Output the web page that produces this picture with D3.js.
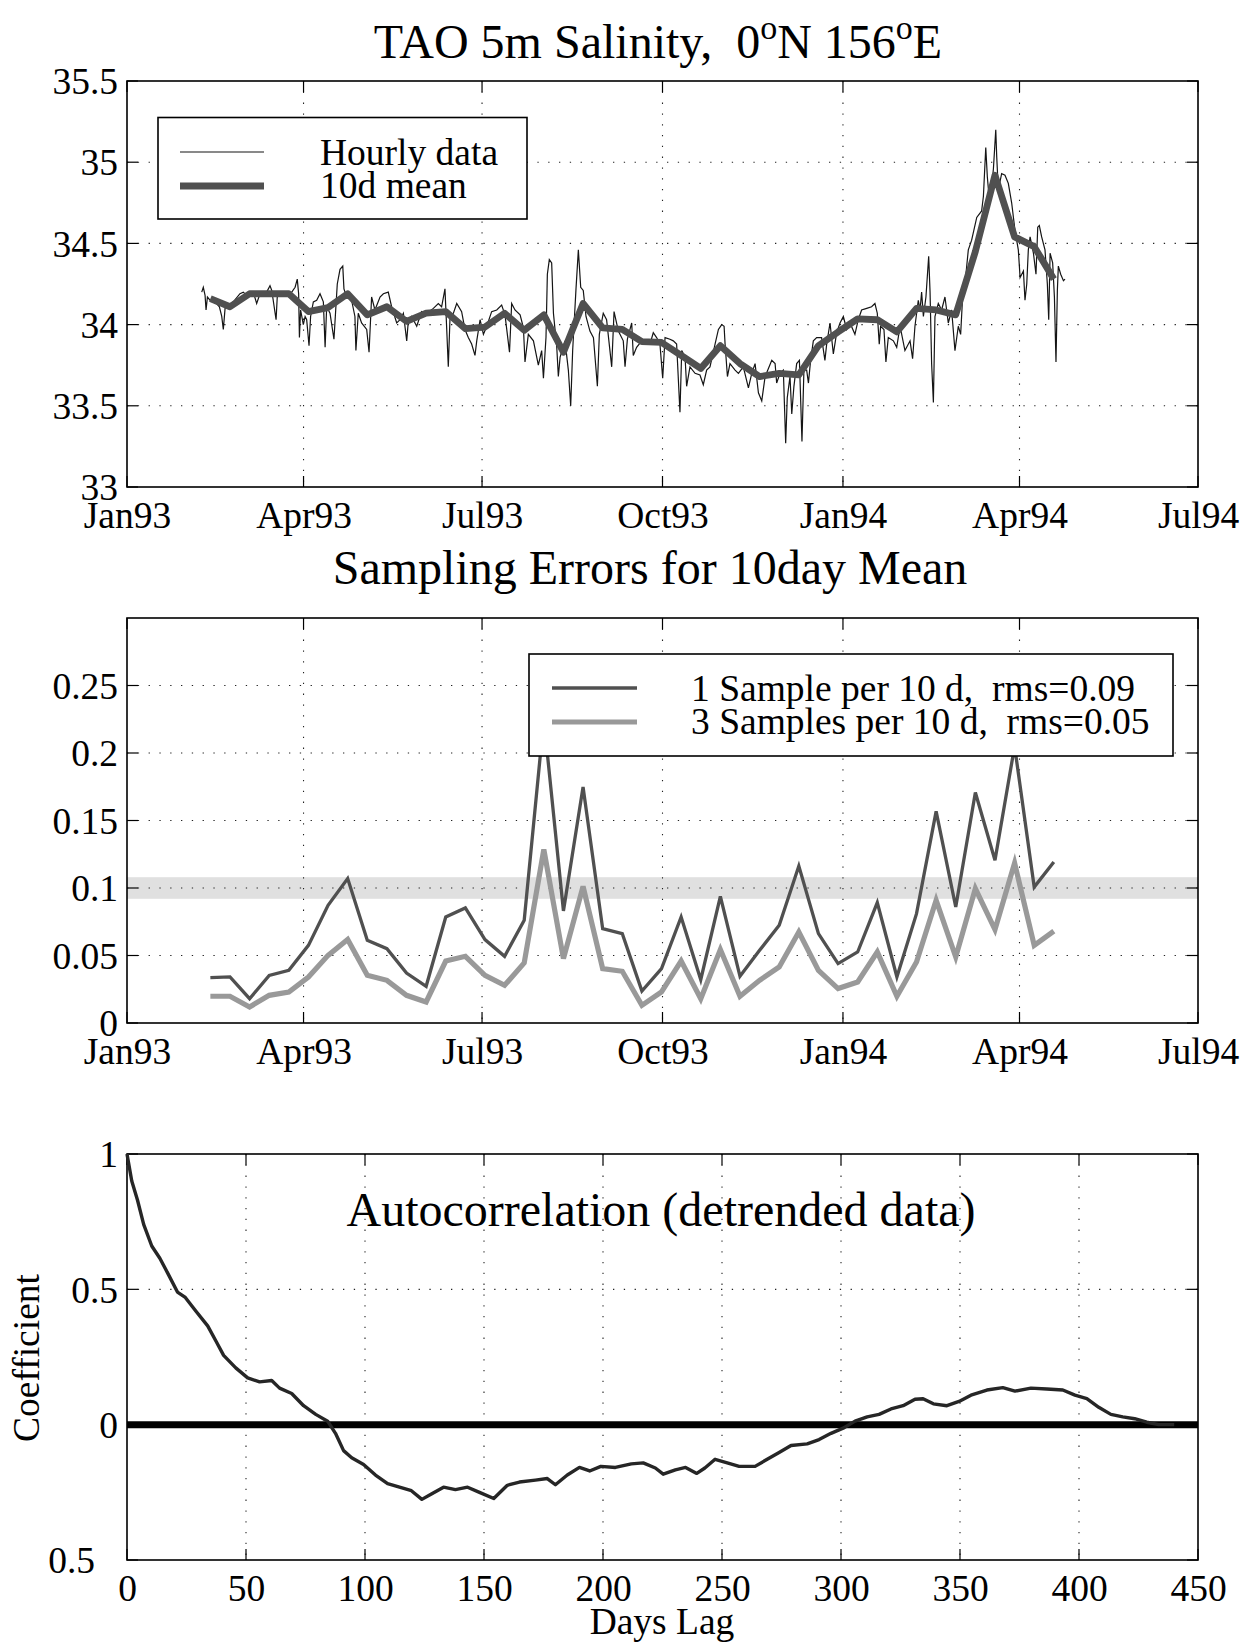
<!DOCTYPE html>
<html>
<head>
<meta charset="utf-8">
<script src="https://cdn.jsdelivr.net/npm/d3@7"></script>
<style>
  html, body { margin: 0; padding: 0; background: #fff; }
  svg text { font-family: "Liberation Serif", "Times New Roman", Times, serif; fill: #000; white-space: pre; }
</style>
</head>
<body>
<svg id="chart" width="1252" height="1645"></svg>
<script>
// ---------------- DATA ----------------
// Hourly salinity trace (day offset from 1 Jan 1993, psu)
const hourlyDays = [38.1,38.9,39.8,40.3,41.0,42.3,44.9,47.1,48.3,49.1,50.0,51.7,54.2,57.6,59.3,61.0,62.7,64.4,66.1,67.8,71.2,72.9,73.8,76.0,76.6,78.9,81.4,84.0,85.7,86.8,87.5,87.9,88.5,89.9,90.8,91.6,92.8,93.6,95.0,96.7,98.4,100.1,101.0,101.8,103.5,105.5,106.4,107.2,108.6,110.0,110.6,112.0,114.5,116.2,116.7,117.9,119.6,122.2,123.4,124.7,126.4,129.0,130.7,133.2,134.9,137.5,139.2,140.9,142.6,143.4,145.1,147.7,150.2,152.8,156.2,158.7,160.4,162.1,163.0,163.8,164.7,166.4,168.1,170.6,172.3,174.0,175.7,177.4,178.3,180.0,181.7,183.4,185.9,188.5,191.0,192.7,195.0,196.1,197.8,200.4,202.1,202.9,204.6,207.2,209.7,211.4,212.3,213.6,214.3,215.3,216.5,217.4,219.1,219.9,220.8,223.3,225.0,226.2,227.2,228.9,230.1,231.3,232.6,234.0,236.0,237.8,239.8,240.8,242.8,244.5,247.1,248.3,250.5,253.0,253.9,255.1,257.3,258.1,259.8,262.4,264.9,266.6,268.3,270.0,271.7,273.1,274.3,276.8,278.5,280.2,281.9,282.8,284.5,285.3,287.0,289.6,292.1,293.8,295.5,297.2,299.8,301.5,303.2,304.4,304.9,306.1,307.4,310.0,311.7,314.2,316.8,318.5,320.2,321.9,323.6,325.3,327.0,328.7,330.4,331.2,332.9,334.6,335.8,336.6,338.0,338.9,340.0,341.4,342.8,344.1,345.1,346.5,347.4,348.5,349.9,351.6,354.1,355.8,356.7,358.4,360.1,361.8,363.5,365.2,366.9,368.6,371.1,372.8,374.5,377.1,379.6,381.3,382.5,383.5,384.2,385.9,386.9,388.1,390.7,392.4,394.1,396.6,399.2,400.5,401.7,403.4,404.3,405.1,406.0,407.3,408.7,409.4,410.2,411.1,411.9,413.6,415.3,417.0,418.7,420.4,422.1,423.8,425.0,426.0,427.2,428.9,430.6,433.2,435.7,436.6,437.8,438.6,439.6,440.8,441.7,442.9,443.4,444.2,445.9,447.6,449.3,451.0,452.7,454.4,455.3,457.0,457.8,458.7,459.5,460.4,462.1,463.4,464.3,465.1,466.3,468.0,469.2,469.9,470.6,471.9,472.8,473.6,474.3,474.8,476.0,477.4,478.2];
const hourlySalinity = [34.20,34.23,34.18,34.09,34.17,34.15,34.14,34.11,34.05,33.97,34.10,34.12,34.14,34.19,34.20,34.18,34.18,34.20,34.13,34.19,34.20,34.24,34.21,34.03,34.17,34.19,34.18,34.20,34.23,34.28,34.19,33.92,34.09,34.00,34.05,34.03,33.87,34.05,34.14,34.15,34.19,34.14,33.86,34.11,34.07,33.91,34.09,34.25,34.34,34.36,34.22,34.17,34.15,34.05,33.84,34.07,34.01,33.97,33.83,34.17,34.09,34.17,34.19,34.20,34.11,34.01,34.03,34.07,33.90,34.02,34.05,33.99,34.08,34.07,34.10,34.13,34.11,34.22,33.97,33.74,34.05,34.07,34.13,34.08,33.97,33.92,33.88,33.81,33.90,34.03,33.94,33.99,34.08,34.09,34.12,34.06,33.83,34.13,34.09,34.06,33.98,33.77,33.94,33.90,33.75,33.84,33.67,33.92,34.31,34.40,34.38,34.07,33.86,33.68,33.80,33.90,33.72,33.50,33.84,34.22,34.46,34.23,34.21,34.05,33.96,33.92,33.62,33.94,34.07,34.03,33.74,34.08,33.96,33.90,33.74,33.91,34.01,33.81,33.86,33.90,33.89,33.88,33.95,33.92,33.88,33.67,33.92,33.91,33.90,33.88,33.46,33.84,33.80,33.62,33.74,33.70,33.69,33.63,33.72,33.74,33.88,33.97,34.00,33.99,33.88,33.68,33.76,33.72,33.70,33.74,33.61,33.70,33.76,33.58,33.53,33.68,33.73,33.78,33.76,33.64,33.70,33.72,33.27,33.55,33.68,33.45,33.62,33.76,33.78,33.28,33.72,33.72,33.64,33.78,33.90,33.92,33.92,33.78,33.88,34.01,33.82,33.95,34.01,34.05,33.97,34.01,33.94,34.03,34.09,34.10,34.11,34.13,34.07,33.88,33.99,33.97,33.77,33.92,33.90,33.86,33.99,33.84,33.90,33.79,33.99,34.15,34.09,34.20,34.05,34.17,34.42,34.20,33.76,33.52,34.05,34.13,34.09,34.17,34.01,34.09,33.84,33.99,33.94,34.17,34.25,34.46,34.52,34.66,34.70,34.79,35.09,34.91,34.77,34.85,34.96,35.20,35.03,34.83,34.93,34.92,34.87,34.75,34.58,34.46,34.29,34.33,34.15,34.25,34.46,34.54,34.44,34.31,34.60,34.61,34.54,34.46,34.25,34.03,34.44,34.38,34.17,33.77,34.21,34.36,34.31,34.27,34.28];

// 10-day means (centre day offsets from 1 Jan 1993)
const meanDays = [42.5,52.5,62.5,72.5,82.5,92.5,102.5,112.5,122.5,132.5,142.5,152.5,162.5,172.5,182.5,192.5,202.5,212.5,222.5,232.5,242.5,252.5,262.5,272.5,282.5,292.5,302.5,312.5,322.5,332.5,342.5,352.5,362.5,372.5,382.5,392.5,402.5,412.5,422.5,432.5,442.5,452.5,462.5,472.5];
const meanSalinity = [34.16,34.11,34.19,34.19,34.19,34.08,34.105,34.19,34.06,34.11,34.02,34.07,34.08,33.975,33.985,34.07,33.965,34.06,33.83,34.13,33.98,33.97,33.895,33.89,33.81,33.73,33.87,33.76,33.68,33.70,33.69,33.87,33.955,34.035,34.03,33.955,34.10,34.09,34.06,34.45,34.92,34.54,34.48,34.28];

// Sampling errors for the 10-day mean
const err1Sample = [0.0336,0.0341,0.018,0.0353,0.039,0.0575,0.0872,0.107,0.0613,0.0551,0.037,0.0272,0.0785,0.0852,0.0618,0.0494,0.0761,0.225,0.083,0.1748,0.0699,0.0662,0.0237,0.0403,0.0785,0.0321,0.0938,0.0346,0.0538,0.0724,0.1163,0.0662,0.044,0.0526,0.0892,0.0341,0.081,0.1568,0.0859,0.1707,0.1205,0.205,0.1007,0.1193];
const err3Samples = [0.0198,0.0198,0.0119,0.0205,0.023,0.0341,0.0501,0.0618,0.0353,0.0316,0.0205,0.0156,0.0459,0.0494,0.0353,0.0279,0.0445,0.1285,0.0477,0.1012,0.0403,0.0383,0.0131,0.023,0.0459,0.018,0.0544,0.0198,0.0316,0.0415,0.0674,0.039,0.0255,0.0304,0.0526,0.0198,0.0452,0.0909,0.0489,0.0996,0.0692,0.1185,0.0575,0.0681];
const errBand = [0.092, 0.108];

// Autocorrelation
const lagDays = [0,2,4.4,7,10.4,13.8,17.1,21.2,24.5,28.9,33.9,37.3,40.6,45.7,50.7,55.7,60.8,64.1,69.2,74.2,79.3,84.3,87.6,91.0,94.4,99.4,104.4,109.5,114.5,119.5,123.9,127.9,133.0,138.0,143.1,148.1,154.1,159.8,164.9,171.6,176.6,180.0,185.0,190.1,194.4,199.1,205.2,211.9,216.9,222.0,225.3,230.4,234.7,239.4,242.8,247.1,252.2,257.2,263.9,269.0,274.0,279.0,285.8,290.8,295.8,300.9,305.9,311.0,316.0,321.0,326.1,331.1,334.5,338.8,344.5,349.6,354.6,361.3,368.0,373.1,379.8,386.5,393.2,398.3,403.3,408.3,413.4,418.4,423.4,428.5,433.5,440];
const acfValues = [1.0,0.90,0.83,0.74,0.66,0.615,0.56,0.49,0.47,0.42,0.365,0.31,0.256,0.21,0.173,0.158,0.163,0.135,0.115,0.07,0.038,0.013,-0.032,-0.096,-0.122,-0.147,-0.186,-0.218,-0.231,-0.244,-0.276,-0.256,-0.231,-0.24,-0.231,-0.25,-0.273,-0.224,-0.212,-0.205,-0.199,-0.222,-0.186,-0.158,-0.171,-0.154,-0.158,-0.145,-0.141,-0.16,-0.183,-0.167,-0.158,-0.18,-0.16,-0.128,-0.141,-0.154,-0.154,-0.128,-0.103,-0.077,-0.071,-0.055,-0.032,-0.013,0.013,0.029,0.038,0.058,0.07,0.094,0.096,0.077,0.07,0.086,0.109,0.128,0.137,0.124,0.135,0.132,0.128,0.109,0.096,0.064,0.038,0.029,0.022,0.009,0.0,0.0];

// Ticks / labels
const salTicks = [33, 33.5, 34, 34.5, 35, 35.5];
const errTicks = [0, 0.05, 0.1, 0.15, 0.2, 0.25];
const acfTicks = [-0.5, 0, 0.5, 1];
const lagTicks = [0, 50, 100, 150, 200, 250, 300, 350, 400, 450];
const title1 = ["TAO 5m Salinity,  0", "o", "N 156", "o", "E"];
const title2 = "Sampling Errors for 10day Mean";
const title3 = "Autocorrelation (detrended data)";
const legend1 = ["Hourly data", "10d mean"];
const legend2 = ["1 Sample per 10 d,  rms=0.09", "3 Samples per 10 d,  rms=0.05"];
const xLabel3 = "Days Lag";
const yLabel3 = "Coefficient";

// ---------------- DRAWING ----------------
const svg = d3.select("#chart");
const L = 127, R = 1198;
const TICK = 11;
const FS = 37.5;
const TFS = 48;
const base = Date.UTC(1993, 0, 1);
const toDate = d => new Date(base + d * 864e5);

const x = d3.scaleUtc().domain([new Date(Date.UTC(1993,0,1)), new Date(Date.UTC(1994,6,1))]).range([L, R]);
const dateTicks = d3.utcMonth.range(new Date(Date.UTC(1993,0,1)), new Date(Date.UTC(1994,6,2)), 3);
const fmtDate = d3.utcFormat("%b%y");

function grid(g, xs, ys, xScale, yScale, top, bottom) {
  const gg = g.append("g").attr("stroke", "#222").attr("stroke-width", 1.1).attr("stroke-dasharray", "1.3,9.5");
  xs.forEach(v => gg.append("line").attr("x1", xScale(v)).attr("x2", xScale(v)).attr("y1", top).attr("y2", bottom));
  ys.forEach(v => gg.append("line").attr("x1", L).attr("x2", R).attr("y1", yScale(v)).attr("y2", yScale(v)));
}

function frame(g, xScale, xTicks, yScale, yTicks, top, bottom, xFmt, yFmt) {
  const ax = d3.axisBottom(xScale).tickValues(xTicks).tickSize(0).tickPadding(0).tickFormat(xFmt);
  const gx = g.append("g").attr("transform", `translate(0,${bottom})`).call(ax);
  gx.select(".domain").remove();
  gx.selectAll("text").attr("font-size", FS).attr("dy", null).attr("y", 41)
    .style("font-family", '"Liberation Serif", "Times New Roman", serif').attr("fill", "#000");
  const ay = d3.axisLeft(yScale).tickValues(yTicks).tickSize(0).tickPadding(0).tickFormat(yFmt);
  const gy = g.append("g").attr("transform", `translate(${L - 9},0)`).call(ay);
  gy.select(".domain").remove();
  gy.selectAll("text").attr("font-size", FS).attr("dy", "0.34em")
    .style("font-family", '"Liberation Serif", "Times New Roman", serif').attr("fill", "#000");
  const tk = g.append("g").attr("stroke", "#000").attr("stroke-width", 1.2);
  xTicks.forEach(v => {
    tk.append("line").attr("x1", xScale(v)).attr("x2", xScale(v)).attr("y1", bottom).attr("y2", bottom - TICK);
    tk.append("line").attr("x1", xScale(v)).attr("x2", xScale(v)).attr("y1", top).attr("y2", top + TICK);
  });
  yTicks.forEach(v => {
    tk.append("line").attr("x1", L).attr("x2", L + TICK).attr("y1", yScale(v)).attr("y2", yScale(v));
    tk.append("line").attr("x1", R).attr("x2", R - TICK).attr("y1", yScale(v)).attr("y2", yScale(v));
  });
  g.append("rect").attr("x", L).attr("y", top).attr("width", R - L).attr("height", bottom - top)
    .attr("fill", "none").attr("stroke", "#000").attr("stroke-width", 1.6);
  return gy;
}

// ===== Panel 1 =====
{
  const top = 81, bottom = 487;
  const y = d3.scaleLinear().domain([33, 35.5]).range([bottom, top]);
  const g = svg.append("g");
  const t = g.append("text").attr("x", 658).attr("y", 58).attr("text-anchor", "middle").attr("font-size", TFS);
  t.append("tspan").text(title1[0]);
  t.append("tspan").attr("font-size", 34).attr("dy", -19).text(title1[1]);
  t.append("tspan").attr("dy", 19).text(title1[2]);
  t.append("tspan").attr("font-size", 34).attr("dy", -19).text(title1[3]);
  t.append("tspan").attr("dy", 19).text(title1[4]);

  grid(g, dateTicks.slice(1, -1), [33.5, 34, 34.5, 35], x, y, top, bottom);
  frame(g, x, dateTicks, y, salTicks, top, bottom, fmtDate, d => String(d));

  const hourly = hourlyDays.map((d, i) => [toDate(d), hourlySalinity[i]]);
  g.append("path").datum(hourly).attr("fill", "none").attr("stroke", "#151515").attr("stroke-width", 1.2)
    .attr("d", d3.line().x(d => x(d[0])).y(d => y(d[1])));
  const means = meanDays.map((d, i) => [toDate(d), meanSalinity[i]]);
  g.append("path").datum(means).attr("fill", "none").attr("stroke", "#505050").attr("stroke-width", 6.8)
    .attr("stroke-linejoin", "round")
    .attr("d", d3.line().x(d => x(d[0])).y(d => y(d[1])));

  const lg = g.append("g");
  lg.append("rect").attr("x", 158).attr("y", 117.5).attr("width", 369).attr("height", 101.5)
    .attr("fill", "#fff").attr("stroke", "#000").attr("stroke-width", 1.6);
  lg.append("line").attr("x1", 180).attr("x2", 264).attr("y1", 152).attr("y2", 152).attr("stroke", "#151515").attr("stroke-width", 1.1);
  lg.append("line").attr("x1", 180).attr("x2", 264).attr("y1", 186).attr("y2", 186).attr("stroke", "#505050").attr("stroke-width", 6.8);
  lg.append("text").attr("x", 320).attr("y", 165).attr("font-size", FS).text(legend1[0]);
  lg.append("text").attr("x", 320).attr("y", 198).attr("font-size", FS).text(legend1[1]);
}

// ===== Panel 2 =====
{
  const top = 618, bottom = 1023;
  const y = d3.scaleLinear().domain([0, 0.3]).range([bottom, top]);
  const g = svg.append("g");
  g.append("text").attr("x", 650).attr("y", 584).attr("text-anchor", "middle").attr("font-size", TFS).text(title2);

  g.append("rect").attr("x", L).attr("width", R - L).attr("y", y(errBand[1])).attr("height", y(errBand[0]) - y(errBand[1]))
    .attr("fill", "#e0e0e0");
  grid(g, dateTicks.slice(1, -1), [0.05, 0.1, 0.15, 0.2, 0.25], x, y, top, bottom);
  frame(g, x, dateTicks, y, errTicks, top, bottom, fmtDate, d => String(+d.toFixed(2)));

  const line = d3.line().x((d, i) => x(toDate(meanDays[i]))).y(d => y(d));
  g.append("path").datum(err3Samples).attr("fill", "none").attr("stroke", "#999").attr("stroke-width", 5.2).attr("d", line);
  g.append("path").datum(err1Sample).attr("fill", "none").attr("stroke", "#505050").attr("stroke-width", 3.3).attr("d", line);

  const lg = g.append("g");
  lg.append("rect").attr("x", 529).attr("y", 654).attr("width", 644).attr("height", 102)
    .attr("fill", "#fff").attr("stroke", "#000").attr("stroke-width", 1.6);
  lg.append("line").attr("x1", 552).attr("x2", 637).attr("y1", 688).attr("y2", 688).attr("stroke", "#505050").attr("stroke-width", 3.3);
  lg.append("line").attr("x1", 552).attr("x2", 637).attr("y1", 722).attr("y2", 722).attr("stroke", "#999").attr("stroke-width", 5.2);
  lg.append("text").attr("x", 691).attr("y", 701).attr("font-size", FS).text(legend2[0]);
  lg.append("text").attr("x", 691).attr("y", 734).attr("font-size", FS).text(legend2[1]);
}

// ===== Panel 3 =====
{
  const top = 1154, bottom = 1560;
  const xl = d3.scaleLinear().domain([0, 450]).range([L, R]);
  const y = d3.scaleLinear().domain([-0.5, 1]).range([bottom, top]);
  const g = svg.append("g");

  grid(g, lagTicks.slice(1, -1), [0.5], xl, y, top, bottom);
  const gy = frame(g, xl, lagTicks, y, acfTicks, top, bottom, d => String(d), d => String(Math.abs(d)));
  gy.selectAll(".tick").filter(d => d < 0).select("text").attr("dx", -23);

  g.append("text").attr("x", 661).attr("y", 1226).attr("text-anchor", "middle").attr("font-size", TFS).text(title3);
  g.append("text").attr("x", 662).attr("y", 1634).attr("text-anchor", "middle").attr("font-size", FS).text(xLabel3);
  g.append("text").attr("transform", "translate(39,1358) rotate(-90)").attr("text-anchor", "middle").attr("font-size", FS).text(yLabel3);

  g.append("line").attr("x1", xl(0)).attr("x2", xl(450)).attr("y1", y(0)).attr("y2", y(0)).attr("stroke", "#000").attr("stroke-width", 7);
  const acf = lagDays.map((d, i) => [d, acfValues[i]]);
  g.append("path").datum(acf).attr("fill", "none").attr("stroke", "#262626").attr("stroke-width", 3.4)
    .attr("stroke-linejoin", "round")
    .attr("d", d3.line().x(d => xl(d[0])).y(d => y(d[1])));
}
</script>
</body>
</html>
